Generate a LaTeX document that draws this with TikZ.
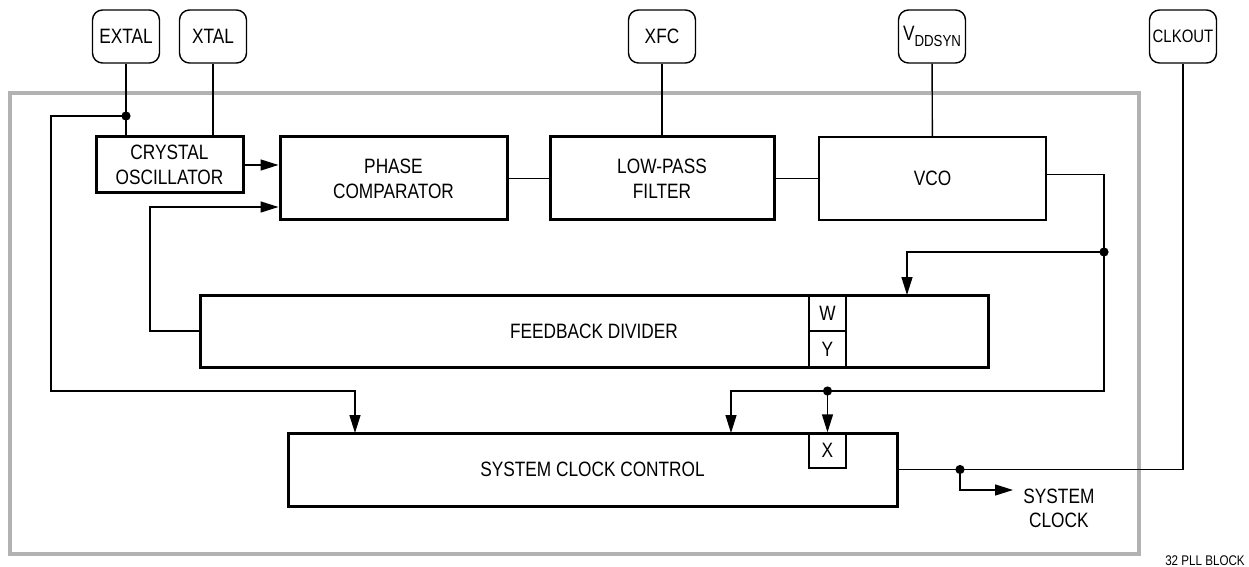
\documentclass[tikz,border=0pt]{standalone}
\usepackage{fontspec}
\setmainfont{Liberation Sans}[FakeStretch=0.83]
\usetikzlibrary{arrows.meta,positioning}

\tikzset{
  blk/.style={draw,line width=1.5pt,inner sep=0pt,align=center},
  thinblk/.style={draw,line width=0.7pt,inner sep=0pt,align=center},
  pin/.style={draw,line width=0.7pt,rounded corners=5pt,minimum width=33.5pt,minimum height=26.5pt,inner sep=0pt},
  cell/.style={draw,line width=0.7pt,inner sep=0pt,minimum width=18.5pt},
  wire/.style={line width=0.7pt},
  arr/.style={wire,-{Triangle[length=9pt,width=5.5pt]}},
  jdot/.style={circle,fill,inner sep=0pt,minimum size=4.6pt},
}

\begin{document}
\begin{tikzpicture}[x=0.5pt,y=-0.5pt,font=\fontsize{10.4}{12.5}\selectfont]
\useasboundingbox (0,0) rectangle (1249,567);
% chip outline
\draw[black!30,line width=2.2pt] (10,93) rectangle (1139,554);

% pins
\node[pin] (extal) at (126,36.5) {EXTAL};
\node[pin] (xtal) at (213,36.5) {XTAL};
\node[pin] (xfc) at (662,36.5) {XFC};
\node[pin] (vdd) at (932,36.5) {V\raisebox{-3pt}{\fontsize{8}{8}\selectfont DDSYN}};
\node[pin,font=\fontsize{9}{10}\selectfont] (clkout) at (1183,36.5) {CLKOUT};

% blocks
\node[blk,minimum width=73.5pt,minimum height=28pt] (xo) at (169.5,165) {CRYSTAL\\OSCILLATOR};
\node[blk,minimum width=113.5pt,minimum height=41.5pt] (pc) at (393.5,178.5) {PHASE\\COMPARATOR};
\node[blk,minimum width=112pt,minimum height=41.5pt] (lpf) at (662,178.5) {LOW-PASS\\FILTER};
\node[thinblk,minimum width=113.5pt,minimum height=41.5pt] (vco) at (932.5,178.5) {VCO};
\node[blk,minimum width=394pt,minimum height=36pt] (fd) at (594,331) {FEEDBACK DIVIDER};
\node[cell,minimum height=18pt] (wcell) at (827.5,313) {W};
\node[cell,minimum height=18pt] (ycell) at (827.5,349) {Y};
\node[blk,minimum width=304.5pt,minimum height=36.5pt] (scc) at (592.5,469.5) {SYSTEM CLOCK CONTROL};
\node[cell,minimum height=17.5pt] (xcell) at (827.5,450.5) {X};
\node[align=center,anchor=north west,inner sep=5pt,font=\fontsize{10.4}{11.6}\selectfont] (sysclk) at (1013,479) {SYSTEM\\CLOCK};
\node[font=\fontsize{7}{8}\selectfont] (tag) at (1205,561) {32 PLL BLOCK};

% junctions
\coordinate (j1) at (126,116);
\coordinate (j2) at (1104,252);
\coordinate (j3) at (827.5,391);
\coordinate (j4) at (960,469.5);
\coordinate (fdin) at (907,295);
\coordinate (sccin) at (731,433);
\coordinate (sccref) at (355,433);

% connections
\draw[wire] (extal) -- (extal |- xo.north);
\draw[wire] (xtal) -- (xtal |- xo.north);
\draw[wire] (xfc) -- (lpf);
\draw[wire] (vdd) -- (vco);
\draw[arr] (xo.east) -- (xo.east -| pc.west);
\draw[wire] (pc) -- (lpf);
\draw[wire] (lpf) -- (vco);
\draw[arr] (fd.west) -| (150,207) -- (150,207 -| pc.west);
\draw[arr] (j1) -| (51,391) -| (sccref);
\draw[wire] ([yshift=2pt]vco.east) -| (j2) |- (j3);
\draw[arr] (j2) -| (fdin);
\draw[arr] (j3) -- (xcell.north);
\draw[arr] (j3) -| (sccin);
\draw[wire] (scc.east) -| (clkout.south);
\draw[arr] (j4) |- ([yshift=-5.5pt]sysclk.north west);

\foreach \j in {j1,j2,j3,j4}
  \node[jdot] at (\j) {};
\end{tikzpicture}
\end{document}
